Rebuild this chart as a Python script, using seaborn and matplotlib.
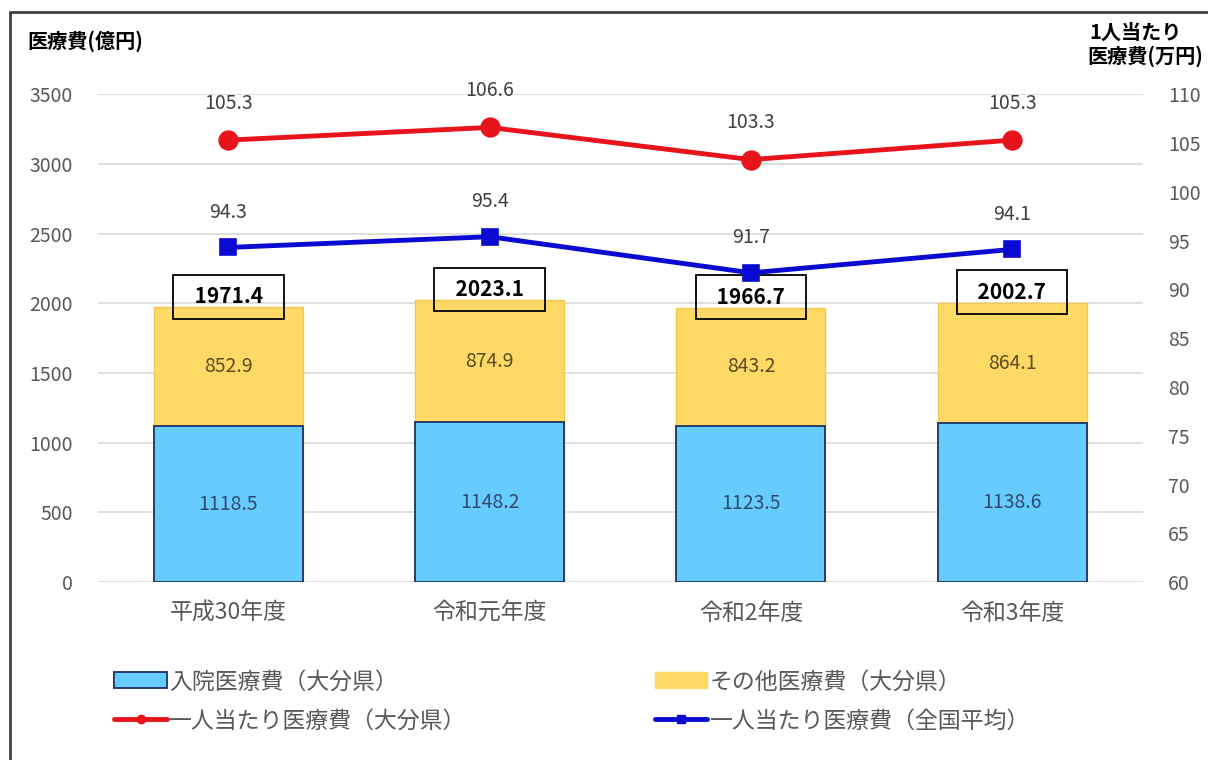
import numpy as np
import seaborn as sns
from matplotlib import pyplot as plt
from matplotlib.patches import Patch
from matplotlib.lines import Line2D

years = ['平成30年度', '令和元年度', '令和2年度', '令和3年度']
inpatient = [1118.5, 1148.2, 1123.5, 1138.6]
other = [852.9, 874.9, 843.2, 864.1]
total = [1971.4, 2023.1, 1966.7, 2002.7]
per_oita = [105.3, 106.6, 103.3, 105.3]
per_national = [94.3, 95.4, 91.7, 94.1]

sns.set_style('white')
plt.rcParams['font.family'] = ['Noto Sans CJK JP', 'DejaVu Sans']

c_blue = '#66ccff'
c_yellow = '#ffd966'
c_red = '#e8131b'
c_navy = '#0a0ad2'
grey = '#595959'

fig = plt.figure(figsize=(12.08, 7.6), dpi=100)
ax = fig.add_axes([0.081, 0.234, 0.865, 0.642])

# stacked bars: total first, inpatient over it
sns.barplot(x=years, y=total, color=c_yellow, saturation=1, width=0.57,
            edgecolor='#f2c94c', linewidth=1, ax=ax, zorder=2)
sns.barplot(x=years, y=inpatient, color=c_blue, saturation=1, width=0.57,
            edgecolor='#1f3060', linewidth=1.3, ax=ax, zorder=3)

ax.set_ylim(0, 3500)
ax.set_yticks(np.arange(0, 3501, 500))
ax.set_xlim(-0.5, 3.5)
ax.grid(axis='y', color='#d9d9d9', linewidth=1.2, zorder=0)
ax.set_axisbelow(True)
for s in ax.spines.values():
    s.set_visible(False)
ax.tick_params(length=0, labelsize=14, colors=grey, pad=18)
ax.tick_params(axis='x', labelsize=16.5, pad=14)
ax.set_xlabel('')
ax.set_ylabel('')

for i, p in enumerate(ax.containers[1]):
    xc = p.get_x() + p.get_width() / 2
    ax.text(xc, inpatient[i] / 2, f'{inpatient[i]:.1f}', ha='center', va='center',
            fontsize=14, color='#2f4a6e', zorder=5)
    ax.text(xc, inpatient[i] + other[i] / 2, f'{other[i]:.1f}', ha='center', va='center',
            fontsize=14, color='#5c4c1e', zorder=5)
    ax.text(xc, total[i] + 76, f'  {total[i]:.1f}  ', ha='center', va='center',
            fontsize=15, fontweight='bold', color='black', zorder=6,
            bbox=dict(boxstyle='square,pad=0.55', fc='none', ec='black', lw=1.3))

ax2 = ax.twinx()
sns.pointplot(x=years, y=per_oita, color=c_red, markers='o', markersize=12,
              linewidth=3.5, errorbar=None, ax=ax2)
sns.pointplot(x=years, y=per_national, color=c_navy, markers='s', markersize=10,
              linewidth=3.5, errorbar=None, ax=ax2)
ax2.set_ylim(60, 110)
ax2.set_yticks(np.arange(60, 111, 5))
ax2.set_xlim(-0.5, 3.5)
for s in ax2.spines.values():
    s.set_visible(False)
ax2.tick_params(length=0, labelsize=14, colors=grey, pad=18)
ax2.set_ylabel('')
ax2.grid(False)

for i in range(len(years)):
    ax2.text(i, per_oita[i] + 3.8, f'{per_oita[i]:.1f}', ha='center', va='center',
             fontsize=14, color='#404040')
    ax2.text(i, per_national[i] + 3.6, f'{per_national[i]:.1f}', ha='center', va='center',
             fontsize=14, color='#404040')

fig.text(27 / 1208, 1 - 41 / 760, '医療費(億円)', fontsize=14.5, fontweight='bold',
         ha='left', va='center', color='black')
fig.text(1089 / 1208, 1 - 32 / 760, '1人当たり', fontsize=14.5, fontweight='bold',
         ha='left', va='center', color='black')
fig.text(1087 / 1208, 1 - 56 / 760, '医療費(万円)', fontsize=14.5, fontweight='bold',
         ha='left', va='center', color='black')

handles = [
    Patch(facecolor=c_blue, edgecolor='#1f3060', linewidth=1.3),
    Line2D([], [], color=c_red, lw=3.5, marker='o', markersize=6),
    Patch(facecolor=c_yellow, edgecolor=c_yellow),
    Line2D([], [], color=c_navy, lw=3.5, marker='s', markersize=6),
]
labels = ['入院医療費（大分県）', '一人当たり医療費（大分県）',
          'その他医療費（大分県）', '一人当たり医療費（全国平均）']
fig.legend(handles, labels, ncol=2, loc='upper left', bbox_to_anchor=(103 / 1208, 1 - 659 / 760),
           frameon=False, fontsize=16.5, handlelength=2.3, handletextpad=0.1,
           columnspacing=8.2, labelspacing=0.7, labelcolor=grey, borderpad=0)

# outer frame
fig.add_artist(Line2D([10 / 1208, 10 / 1208], [0, 1 - 12 / 760], color='#404040', lw=2))
fig.add_artist(Line2D([10 / 1208, 1], [1 - 12 / 760, 1 - 12 / 760], color='#404040', lw=2))

fig.savefig('out.png', dpi=100)
